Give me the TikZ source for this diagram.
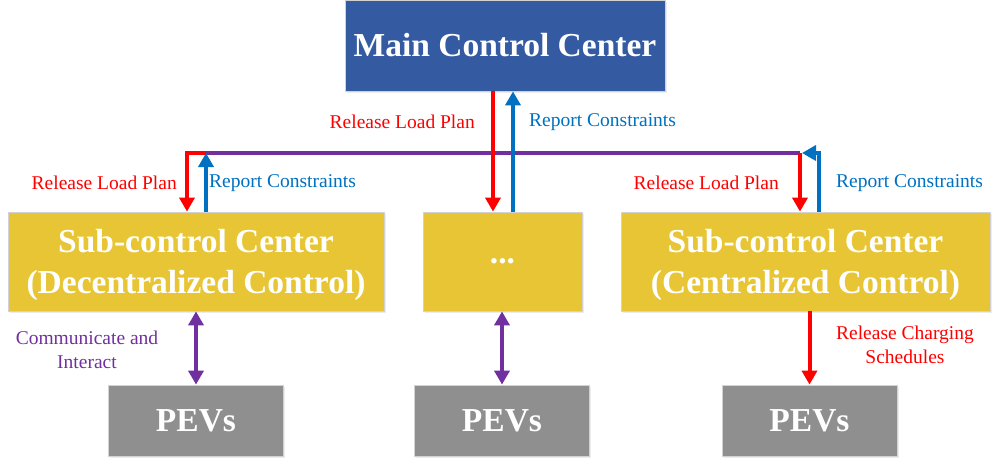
\documentclass[tikz,border=0pt]{standalone}
\usepackage{fontspec}
\setmainfont{Liberation Serif}
\usetikzlibrary{arrows.meta,calc,shadows}
\definecolor{mainblue}{RGB}{52,90,162}
\definecolor{subyellow}{RGB}{232,197,52}
\definecolor{pevgray}{RGB}{143,143,143}
\definecolor{redc}{RGB}{255,0,0}
\definecolor{bluec}{RGB}{0,112,192}
\definecolor{purc}{RGB}{112,48,160}
\begin{document}
\begin{tikzpicture}[x=1pt,y=-1pt,
  box/.style={rectangle, draw=gray!35, line width=0.8pt, text=white,
    font=\fontsize{33.5}{41}\selectfont\bfseries, align=center, inner sep=0pt,
    drop shadow={shadow xshift=1.5pt, shadow yshift=-1.5pt, opacity=0.15}},
  mainbox/.style={box, fill=mainblue, minimum width=320pt, minimum height=91pt},
  subbox/.style={box, fill=subyellow, minimum height=99pt, text depth=1pt},
  pevbox/.style={box, fill=pevgray, minimum width=175pt, minimum height=71pt},
  lab/.style={font=\fontsize{19.5}{23.5}\selectfont, inner sep=0pt, align=center},
  tipT/.tip={Triangle[width=15pt,length=14pt]},
  arr/.style={line width=4pt, -tipT},
  dblarr/.style={line width=4pt, tipT-tipT},
  bus/.style={line width=4pt, purc}
]
\useasboundingbox (0,0) rectangle (994,463);

% boxes
\node[mainbox] (main) at (505,45.5) {Main Control Center};
\node[subbox, minimum width=376pt] (subL) at (196,261.5) {Sub-control Center\\(Decentralized Control)};
\node[subbox, minimum width=159pt] (subM) at (502.5,261.5) {...};
\node[subbox, minimum width=369pt] (subR) at (805.5,261.5) {Sub-control Center\\(Centralized Control)};
\node[pevbox] (pevL) at (196,420.5) {PEVs};
\node[pevbox] (pevM) at (502,420.5) {PEVs};
\node[pevbox] (pevR) at (809.5,420.5) {PEVs};

% helper coordinates
\coordinate (xr) at (493,0);
\coordinate (xb) at (513,0);
\coordinate (jL) at (206,153);
\coordinate (cL) at (187,153);
\coordinate (jR) at (800,153);
\coordinate (tR) at (802,153);
\coordinate (cR) at (819,153);

% bus
\draw[bus] (jL) -- (jR);

% main <-> middle
\draw[arr, redc] (main.south -| xr) -- (subM.north -| xr);
\draw[arr, bluec] (subM.north -| xb) -- (main.south -| xb);

% left
\draw[arr, redc] (jL) -- (cL) -- (cL |- subL.north);
\draw[arr, bluec] (subL.north -| jL) -- (jL);

% right
\draw[arr, redc] (jR) -- (jR |- subR.north);
\draw[arr, bluec] (subR.north -| cR) -- (cR) -- (tR);

% lower connectors
\draw[dblarr, purc] (subL.south -| pevL.north) -- (pevL.north);
\draw[dblarr, purc] (subM.south -| pevM.north) -- (pevM.north);
\draw[arr, redc] (subR.south -| pevR.north) -- (pevR.north);

% labels
\node[lab, text=redc, anchor=east] (l1) at (475,122) {Release Load Plan};
\node[lab, text=bluec, anchor=west] (l2) at (529,122) {Report Constraints};
\node[lab, text=redc, anchor=east] (l3) at (177,183) {Release Load Plan};
\node[lab, text=bluec, anchor=west] (l4) at (209,183) {Report Constraints};
\node[lab, text=redc, anchor=east] (l5) at (779,183) {Release Load Plan};
\node[lab, text=bluec, anchor=west] (l6) at (836,183) {Report Constraints};
\node[lab, text=purc] (l7) at (87,350) {Communicate and\\Interact};
\node[lab, text=redc] (l8) at (905,345) {Release Charging\\Schedules};
\end{tikzpicture}
\end{document}
